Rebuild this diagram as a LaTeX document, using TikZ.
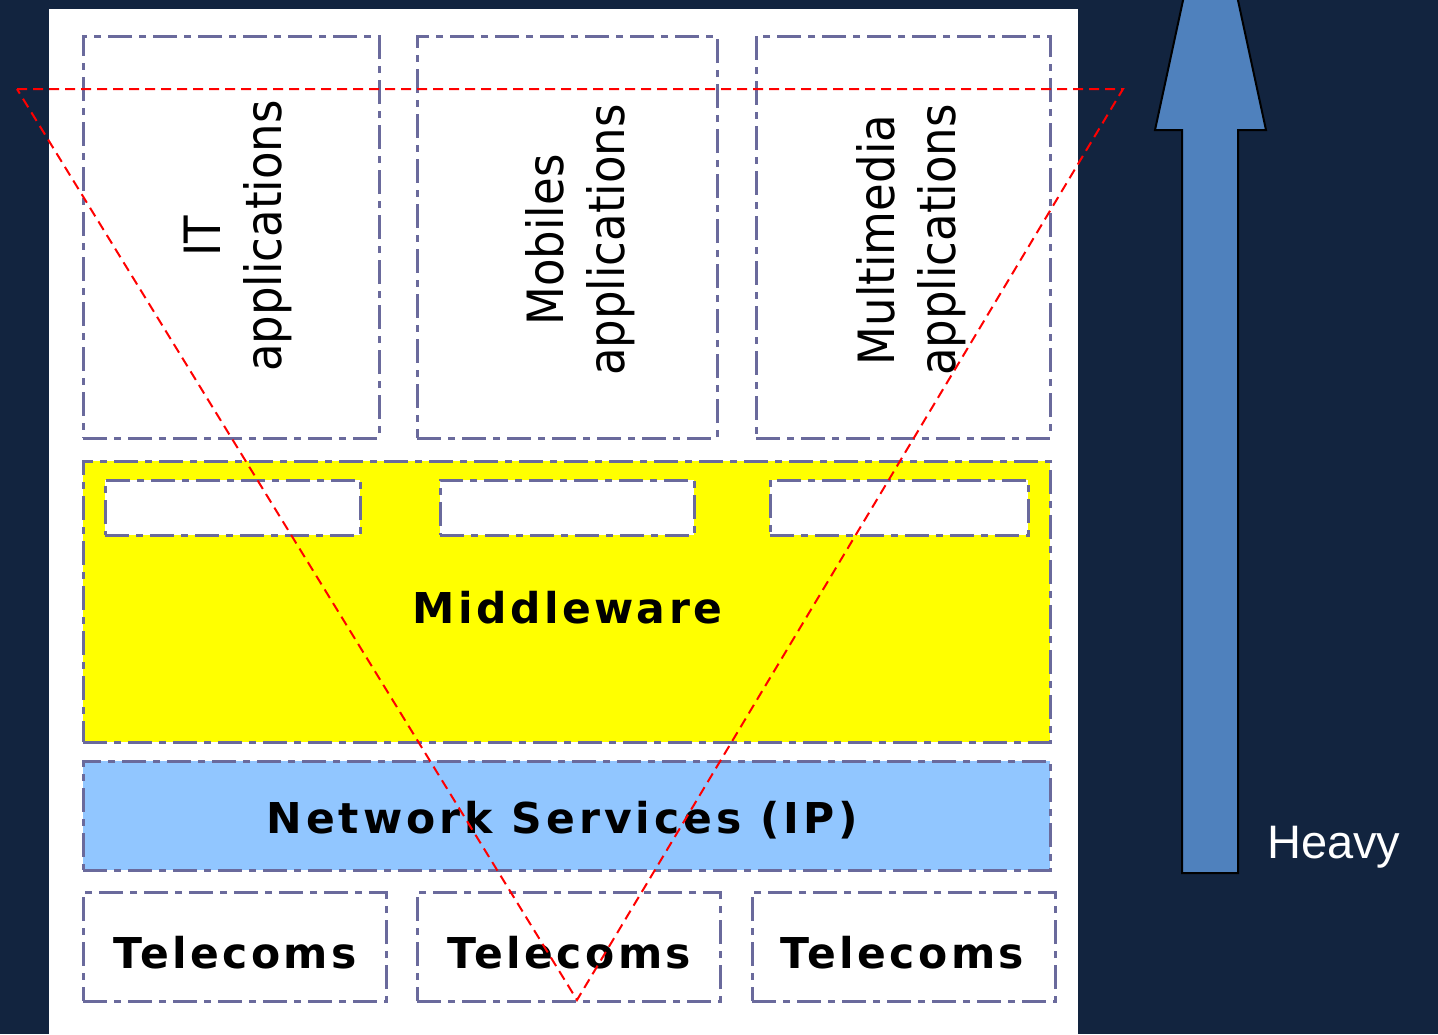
\documentclass[tikz,border=0pt]{standalone}
\usepackage{fontspec}
\setmainfont{DejaVu Sans}
\newfontfamily\boldlabel[LetterSpace=8]{DejaVu Sans}
\newfontfamily\widelabel[LetterSpace=9.4]{DejaVu Sans}
\newfontfamily\rotlabel[FakeStretch=0.9]{DejaVu Sans}
\newfontfamily\heavyfont{Liberation Sans}
\definecolor{bgnavy}{HTML}{12243F}
\definecolor{boxline}{HTML}{6A6A9C}
\definecolor{mwyellow}{HTML}{FFFF00}
\definecolor{netblue}{HTML}{91C6FF}
\definecolor{arrowblue}{HTML}{4F81BD}
\tikzset{
  layerbox/.style={draw=boxline, line width=3pt, dash pattern=on 24pt off 7pt on 7pt off 7pt, inner sep=0pt, outer sep=0pt},
  boldtext/.style={font=\boldlabel\bfseries\fontsize{42.5}{50}\selectfont, text=black, inner sep=0pt, anchor=base},
  rottext/.style={font=\rotlabel\fontsize{50}{61}\selectfont, text=black, rotate=90, align=center, inner sep=0pt},
  triline/.style={draw=red, line width=2pt, dash pattern=on 10pt off 6pt},
}
\begin{document}
\begin{tikzpicture}[x=1pt,y=-1pt]
\useasboundingbox (0,0) rectangle (1438,1034);
\clip (0,0) rectangle (1438,1034);
\fill[bgnavy] (0,0) rectangle (1438,1034);
\fill[white] (49,9) rectangle (1078,1040);
% application boxes
\node[layerbox, fill=white, minimum width=296, minimum height=402] (itbox) at (231,237) {};
\node[layerbox, fill=white, minimum width=300, minimum height=402] (mobbox) at (567,237) {};
\node[layerbox, fill=white, minimum width=294, minimum height=402] (mmbox) at (903,237) {};
\node[rottext] (ittxt) at (238,236) {IT\\applications};
\node[rottext] (mobtxt) at (580,240) {Mobiles\\applications};
\node[rottext] (mmtxt) at (911,240) {Multimedia\\applications};
% middleware
\node[layerbox, fill=mwyellow, minimum width=967, minimum height=281] (mw) at (566.5,601.5) {};
\node[layerbox, fill=white, minimum width=255, minimum height=55] (mw1) at (232.5,507.5) {};
\node[layerbox, fill=white, minimum width=254, minimum height=55] (mw2) at (567,507.5) {};
\node[layerbox, fill=white, minimum width=258, minimum height=55] (mw3) at (899,507.5) {};
\node[boldtext] (mwtxt) at (567.5,623) {Middleware};
% network
\node[layerbox, fill=netblue, minimum width=967, minimum height=109] (net) at (566.5,815.5) {};
\node[boldtext, font=\widelabel\bfseries\fontsize{42.5}{50}\selectfont] (nettxt) at (562.5,833) {Network Services (IP)};
% telecoms
\node[layerbox, fill=white, minimum width=303, minimum height=109] (tel1) at (234.5,946.5) {};
\node[layerbox, fill=white, minimum width=303, minimum height=109] (tel2) at (568.5,946.5) {};
\node[layerbox, fill=white, minimum width=303, minimum height=109] (tel3) at (903.5,946.5) {};
\node[boldtext] (tel1txt) at (235,968) {Telecoms};
\node[boldtext] (tel2txt) at (569.5,968) {Telecoms};
\node[boldtext] (tel3txt) at (902.5,968) {Telecoms};
% red dashed triangle
\coordinate (tl) at (17,89);
\coordinate (tr) at (1123,89);
\coordinate (tb) at (577,1000);
\draw[triline] (tl) -- (tr) -- (tb) -- cycle;
% big arrow
\filldraw[fill=arrowblue, draw=black, line width=2pt, line join=miter]
  (1182,873) -- (1182,130) -- (1155,130) -- (1210.5,-127) -- (1266,130) -- (1238,130) -- (1238,873) -- cycle;
\node[font=\heavyfont\fontsize{47}{50}\selectfont, text=white, anchor=base west, inner sep=0pt] (heavy) at (1267,858) {Heavy};
\end{tikzpicture}
\end{document}
